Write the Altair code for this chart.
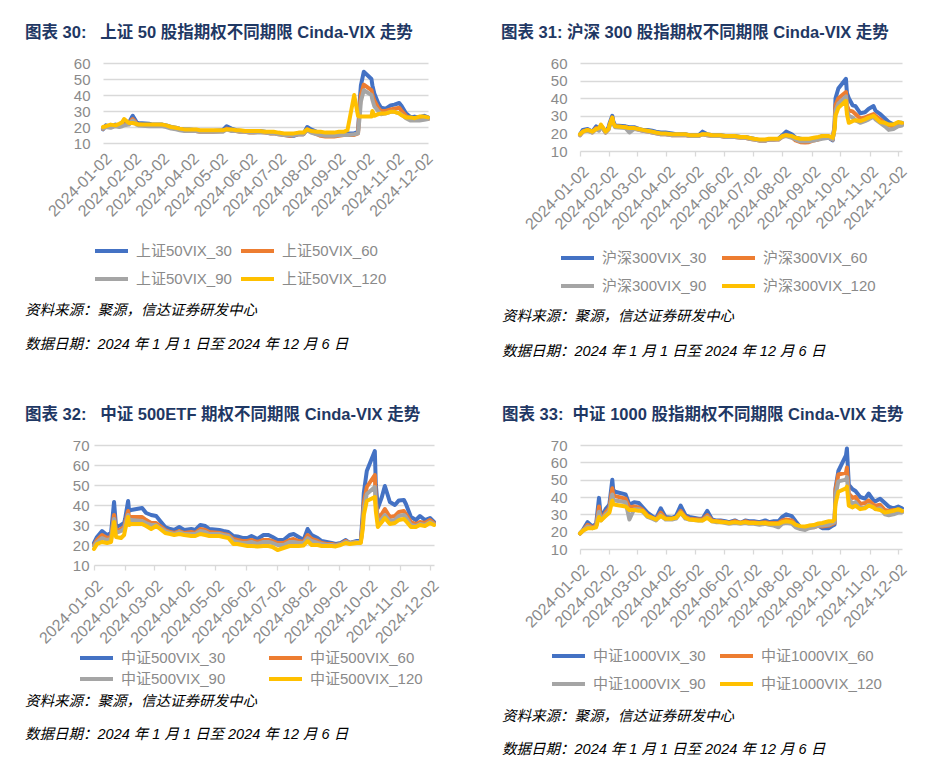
import altair as alt
import pandas as pd

DATES = ["2024-01-02","2024-01-05","2024-01-10","2024-01-15","2024-01-19","2024-01-22","2024-01-24","2024-01-29",
"2024-02-01","2024-02-02","2024-02-05","2024-02-06","2024-02-08","2024-02-19","2024-02-23","2024-02-28",
"2024-03-04","2024-03-08","2024-03-13","2024-03-18","2024-03-22","2024-03-27",
"2024-04-01","2024-04-08","2024-04-12","2024-04-17","2024-04-22","2024-04-26",
"2024-05-06","2024-05-10","2024-05-15","2024-05-20","2024-05-24","2024-05-29",
"2024-06-03","2024-06-07","2024-06-13","2024-06-19","2024-06-24","2024-06-28",
"2024-07-03","2024-07-09","2024-07-15","2024-07-19","2024-07-24","2024-07-29",
"2024-08-02","2024-08-06","2024-08-12","2024-08-16","2024-08-21","2024-08-26","2024-08-30",
"2024-09-04","2024-09-09","2024-09-13","2024-09-20","2024-09-24","2024-09-26","2024-09-27","2024-09-30",
"2024-10-08","2024-10-09","2024-10-11","2024-10-15","2024-10-18","2024-10-23","2024-10-28",
"2024-11-01","2024-11-06","2024-11-08","2024-11-13","2024-11-18","2024-11-22","2024-11-27",
"2024-12-02","2024-12-06"]

TICK_MONTHS = [1, 2, 3, 4, 5, 6, 7, 8, 9, 10, 11, 12]
COLORS = ["#4472C4", "#ED7D31", "#A5A5A5", "#FFC000"]

# ---- 图表 30: 上证50 ----
P1_NAMES = ["上证50VIX_30", "上证50VIX_60", "上证50VIX_90", "上证50VIX_120"]
P1_30 = [18.5, 21, 20, 21.5, 21, 21.5, 22, 22.5,
         26, 27, 24, 23, 22.5, 22, 21.5, 21.5,
         21.5, 21, 20, 19.5, 19, 18.5,
         18.5, 18, 17.5, 17.5, 17.5, 17.5,
         18, 20.5, 19, 18, 17.5, 17.5,
         17, 17, 17.5, 17, 16.5, 16.5,
         16, 15, 14.5, 14.5, 15.5, 15.5,
         20, 18.5, 17, 16, 15.5, 15.5, 15.5,
         16, 16.5, 16, 16, 17, 38, 46, 54.5,
         50, 46, 41, 35, 32, 31.5, 33.5,
         34, 35, 33.5, 28.5, 26, 26.5, 26,
         27, 26]
P1_60 = [19, 20.5, 20, 21, 21, 21, 21.5, 22,
         24.5, 25, 23, 22, 21.5, 21, 21, 21,
         21, 20.5, 19.5, 19, 18.5, 18,
         18, 17.5, 17, 17, 17, 17,
         17.5, 19, 18, 17.5, 17, 17,
         16.5, 16.5, 17, 16.5, 16, 16,
         15.5, 15, 14.5, 15, 15.5, 15.5,
         18.5, 17, 15.5, 14.5, 14, 14, 14,
         14.5, 15, 15, 15, 16, 33, 40, 46.5,
         43, 40, 36.5, 32, 30, 30, 31,
         31.5, 32, 30.5, 27, 25, 25.5, 25,
         25.5, 25]
P1_90 = [19, 20, 19.5, 20.5, 20, 20.5, 21, 21.5,
         23.5, 24, 22.5, 21.5, 21, 20.5, 20.5, 20.5,
         20.5, 20, 19, 18.5, 18, 17.5,
         17.5, 17.5, 17, 17, 17, 17,
         17, 18.5, 17.5, 17.5, 17, 17,
         16.5, 16.5, 16.5, 16.5, 16, 16,
         15.5, 15, 15, 15, 15.5, 15.5,
         18, 16.5, 15.5, 15, 14.5, 14.5, 14.5,
         15, 15, 15, 15.5, 16, 28, 36, 43,
         40, 37, 33, 30, 28, 28.5, 29.5,
         29.5, 28.5, 28, 25.5, 24, 24, 24,
         24.5, 25]
P1_120 = [20, 20.5, 21.5, 21, 22, 23, 25, 22.5,
          22.5, 22.5, 22, 22, 21.5, 21.5, 21.5, 21.5,
          21.5, 21, 20, 19.5, 19, 18.5,
          18.5, 18.5, 18, 18, 18, 18,
          18, 18.5, 18.5, 18, 18, 17.5,
          17.5, 17.5, 17.5, 17, 17, 17,
          16.5, 16, 16, 16, 16.5, 16.5,
          18.5, 17.5, 17, 17, 16.5, 16.5, 16.5,
          17, 17, 18, 40, 27, 26.5, 26.5, 26.5,
          26.5, 30, 27, 28, 28.5, 28.5, 29.5,
          29.5, 28.5, 27.5, 26, 26, 25.5, 26.5,
          26.5, 26]

# ---- 图表 31: 沪深300 ----
P2_NAMES = ["沪深300VIX_30", "沪深300VIX_60", "沪深300VIX_90", "沪深300VIX_120"]
P2_30 = [19.5, 22, 22.5, 21, 24, 22.5, 24.5, 21,
         23.5, 25.5, 30, 27, 24.5, 24, 23.5, 23.5,
         22.5, 22, 22, 21.5, 21, 20.5,
         20.5, 20, 19.5, 19.5, 19.5, 19,
         19, 21, 19.5, 19, 19, 19,
         18.5, 18.5, 18.5, 18, 18, 17.5,
         17, 16, 16, 16.5, 16.5, 17,
         19, 21, 19.5, 17.5, 17, 16.5, 16.5,
         17, 17.5, 18.5, 17.5, 16, 25, 40, 45.5,
         51, 43, 40, 36, 35.5, 31.5, 32,
         34, 35.5, 33, 31, 28.5, 26.5, 25,
         26, 26]
P2_60 = [19, 21, 22, 20.5, 23, 22, 24.5, 20.5,
         22.5, 24.5, 29, 26, 24, 23.5, 23, 23,
         22, 21.5, 21, 20.5, 20, 19.5,
         19.5, 19, 19, 19, 19, 18.5,
         18.5, 19.5, 19, 18.5, 18.5, 18.5,
         18, 18, 18, 17.5, 17.5, 17,
         16.5, 16, 16, 16.5, 16.5, 16.5,
         18, 19, 18, 16, 15, 14.8, 15,
         16, 16.5, 17.5, 17.5, 16.5, 24, 36, 40,
         43.5, 36, 33, 32.5, 31, 28.5, 29,
         30, 31, 30, 28, 25.5, 24.5, 24,
         24.5, 25.5]
P2_90 = [19, 21, 21.5, 20.5, 22.5, 21.5, 24, 20.5,
         22, 24, 28, 25.5, 23.5, 23, 20.5, 22.5,
         22, 21.5, 21, 20.5, 20, 19.5,
         19.5, 19, 19, 19, 19, 18.5,
         18.5, 19.5, 19, 18.5, 18.5, 18.5,
         18, 18, 18, 17.5, 17.5, 17,
         16.5, 16, 16, 16.5, 16.5, 16.5,
         18, 18.5, 17.5, 16.5, 15.5, 15.5, 15.5,
         16, 16.5, 17, 17.5, 16.5, 23, 33, 37,
         41, 33, 30, 29, 27.5, 26, 27,
         28, 29.5, 28, 26, 24, 22, 22.5,
         24, 24.5]
P2_120 = [19.5, 21, 22, 21, 22.5, 23, 25, 21,
          22.5, 24.5, 29, 26, 24, 23.5, 23, 23,
          22.5, 22, 21.5, 21, 20.5, 20,
          20, 19.5, 19.5, 19.5, 19.5, 19,
          19, 19.5, 19.5, 19, 19, 19,
          18.5, 18.5, 18.5, 18, 18, 17.5,
          17, 16.5, 16.5, 17, 17, 17,
          18.5, 19, 18.5, 17.5, 17, 17, 17,
          17.5, 18, 18.5, 18.5, 17.5, 22, 30, 34.5,
          38.5, 31, 26, 27, 27.5, 27, 28,
          29, 30, 29, 26.5, 26, 25, 25,
          26.5, 26]

# ---- 图表 32: 中证500ETF ----
P3_NAMES = ["中证500VIX_30", "中证500VIX_60", "中证500VIX_90", "中证500VIX_120"]
P3_30 = [21, 24, 27, 25, 26, 41.5, 29, 30,
         31, 33, 42, 37, 37.5, 38.5, 36, 35,
         34.5, 32, 29, 28, 27.5, 29,
         27.5, 28, 27.5, 30, 29.5, 28,
         27.5, 27, 26.5, 24.5, 24.3, 23.5,
         23.5, 24.5, 23, 25, 25, 24,
         22.5, 22.5, 25, 25.5, 24, 22.5,
         28, 25, 23.5, 22, 21.5, 21, 20.5,
         21, 22.5, 21, 22, 22, 36, 46, 57,
         67, 50, 38.5, 44, 49.5, 41.5, 40,
         42.3, 42.5, 40.5, 34, 32.5, 34.5, 32.5,
         33.5, 31.5]
P3_60 = [20, 22.5, 25, 23.5, 24, 35, 27, 28,
         29, 31, 37, 34, 34, 34, 32.5, 31,
         31, 29.5, 27.5, 26.5, 26, 27,
         26, 26.5, 26, 28, 27.5, 26.5,
         26, 25.5, 25, 23, 22.5, 22,
         22, 22.5, 21.5, 22.5, 22.5, 22,
         21, 21, 22.5, 23, 22, 21.5,
         25, 23, 22, 21, 20.5, 20.5, 20,
         20.5, 22, 21, 21.5, 21.5, 32, 41, 49,
         55, 42, 33.5, 35.5, 38, 34, 34.5,
         36.5, 37, 35.5, 31.5, 30.5, 31.5, 31,
         32.5, 31]
P3_90 = [19.5, 21.5, 23.5, 22.5, 23, 33, 26, 27,
         28, 30, 35, 32, 32.5, 32, 31, 30,
         30, 28.5, 27, 26, 25.5, 26.5,
         25.5, 25.5, 25.5, 27, 26.5, 25.5,
         25.5, 25, 24.5, 22, 21.5, 21,
         21, 21.5, 20.5, 21.5, 21.5, 21,
         20, 20, 21.5, 21.5, 21, 21,
         23.5, 22, 21, 20.5, 20, 20, 19.8,
         20.5, 21.5, 21, 21.5, 21.5, 30, 38, 45.5,
         49, 40, 31.5, 33, 35, 32, 32.5,
         34.5, 35, 34, 30, 29.5, 30.5, 30,
         31.5, 30.5]
P3_120 = [18, 20.5, 21.5, 21, 21.5, 31.5, 24, 23.5,
          25, 27.5, 34, 30, 30.5, 30.5, 29.5, 28,
          29.5, 28, 26, 25.5, 25, 25.5,
          25, 24.5, 24.5, 25.5, 25, 24.5,
          24.5, 24, 23.5, 20.5, 20.5, 20,
          19.5, 19.5, 19.3, 19.5, 19.5, 19,
          17.5, 18.5, 19.5, 19.5, 19.5, 19.8,
          22, 20, 20, 19.5, 19.5, 19.5, 19.3,
          20, 21, 20.5, 21, 21, 28, 35, 42,
          44, 37, 29, 31.5, 33.5, 30.5, 31,
          32.5, 33, 32, 29, 29, 30, 29.5,
          31, 30]

# ---- 图表 33: 中证1000 ----
P4_NAMES = ["中证1000VIX_30", "中证1000VIX_60", "中证1000VIX_90", "中证1000VIX_120"]
P4_30 = [19, 21, 25.5, 23, 24.5, 39.5, 28, 33,
         35, 36, 50, 44, 43, 41.5, 35.5, 37,
         36.5, 34, 31, 29, 27.5, 33.5,
         28.5, 28, 29, 35, 29.5, 28.5,
         27.5, 27.5, 32, 27, 26.5, 26.5,
         26, 25.5, 26.5, 25, 26.5, 26,
         26, 25.5, 26.5, 25.5, 26, 26,
         28.5, 30, 29, 26, 22.5, 22, 23,
         23, 23.5, 22, 22, 23.5, 24, 45, 55,
         64, 68, 47, 44.5, 43.5, 40, 39,
         42, 38, 37.5, 39, 36.5, 34.5, 33.5,
         34.5, 33.5]
P4_60 = [19, 20.5, 24, 22.5, 23.5, 34.5, 27, 31,
         33, 34, 45, 41, 40.5, 39, 34, 34.5,
         34, 32.5, 29.5, 28, 27, 31,
         27.5, 27.5, 28, 32, 28.5, 27.5,
         27, 27, 29.5, 26.5, 26, 26,
         25.5, 25, 26, 25, 26, 25.5,
         25.5, 25, 25.5, 25, 25, 25,
         26.5, 27, 26.5, 24, 22, 21.5, 22.5,
         22.5, 23.5, 23, 23.5, 24.5, 25, 44, 53,
         54, 57, 42, 39.5, 40, 36, 36.5,
         38, 35.5, 35, 35.5, 32.5, 32, 32.5,
         32, 31.5]
P4_90 = [19, 20.5, 23, 22, 23, 31.5, 26.5, 30,
         31.5, 32.5, 41.5, 38.5, 38, 37, 27, 33,
         33, 31.5, 28.5, 27.5, 26.5, 29.5,
         27, 27, 27.5, 31, 27.5, 27,
         26.5, 26.5, 28.5, 26, 25.5, 25.5,
         25, 24.5, 25, 24.5, 25, 24.5,
         24.5, 24, 24.5, 24, 23.5, 22.5,
         24.5, 25, 24.5, 22.5, 21.5, 21, 22,
         22.5, 23.5, 23.5, 24, 25, 25.5, 41, 49,
         50, 51.5, 39, 36, 37, 33.5, 34,
         35.5, 34, 33, 33.5, 30, 29.5, 30,
         31, 31]
P4_120 = [19, 20.5, 22, 22, 22.5, 28.5, 26.5, 29,
          30.5, 31, 38, 36, 35.5, 34.5, 32.5, 32.5,
          32, 32, 29, 28, 27, 29,
          27.5, 27.5, 28, 31, 28, 27,
          26.5, 26.5, 28, 26, 26, 25.5,
          25.5, 25, 25.5, 25, 25.5, 25,
          25, 24.8, 25, 24.5, 24.5, 24.5,
          25.5, 26, 25.5, 24, 23.2, 23, 23.5,
          23.8, 24.7, 25, 26, 26, 27, 36, 43,
          45, 46, 35, 34, 35, 33, 33.5,
          35, 34, 33, 32.5, 31, 31.5, 32,
          33, 32]

FONT = "Liberation Sans, Noto Sans CJK SC"
LABEL_GRAY = "#8a8a8a"
GRID = "#d9d9d9"
SOURCE = "资料来源：聚源，信达证券研发中心"
DATE_NOTE = "数据日期：2024 年 1 月 1 日至 2024 年 12 月 6 日"
W, H = 925, 762

# plot-area placement of each panel (pixels on the page)
PANELS = [
    dict(names=P1_NAMES, series=[P1_30, P1_60, P1_90, P1_120],
         title="图表 30:\u00a0\u00a0\u00a0上证 50 股指期权不同期限 Cinda-VIX 走势",
         x0=103, x1=428, y0=63, y1=143, ymax=60, ticks=False, ylabpad=13,
         leg=(93, 243, 12, 7), tx=25, ty=33, sx=25, sy=311, dy=345),
    dict(names=P2_NAMES, series=[P2_30, P2_60, P2_90, P2_120],
         title="图表 31:\u00a0沪深 300 股指期权不同期限 Cinda-VIX 走势",
         x0=580, x1=902, y0=63, y1=151, ymax=60, ticks=True, ylabpad=13,
         leg=(559, 250, 12, 13), tx=501, ty=33, sx=502, sy=317, dy=352),
    dict(names=P3_NAMES, series=[P3_30, P3_60, P3_90, P3_120],
         title="图表 32:\u00a0\u00a0\u00a0中证 500ETF 期权不同期限 Cinda-VIX 走势",
         x0=94, x1=434, y0=445, y1=565, ymax=70, ticks=True, ylabpad=5,
         leg=(78, 650, 5, 41), tx=25, ty=415, sx=25, sy=702, dy=735),
    dict(names=P4_NAMES, series=[P4_30, P4_60, P4_90, P4_120],
         title="图表 33:\u00a0\u00a0中证 1000 股指期权不同期限 Cinda-VIX 走势",
         x0=580, x1=902, y0=445, y1=549, ymax=70, ticks=True, ylabpad=13,
         leg=(550, 648, 12, 12), tx=502, ty=415, sx=502, sy=717, dy=750),
]

ONE = pd.DataFrame({"k": [0]})


def text_layer(txt, x, y, size, color, weight="normal", style="normal"):
    return alt.Chart(ONE).mark_text(
        align="left", baseline="middle", font=FONT, fontSize=size, color=color,
        fontWeight=weight, fontStyle=style
    ).encode(x=alt.value(x), y=alt.value(y), text=alt.value(txt))


def panel(p):
    rows = []
    for name, vals in zip(p["names"], p["series"]):
        for d, v in zip(DATES, vals):
            rows.append({"date": d, "series": name, "value": v})
    df = pd.DataFrame(rows)

    xscale = alt.Scale(type="utc", range=[p["x0"], p["x1"]],
                       domain=[alt.DateTime(year=2024, month=1, date=2, utc=True),
                               alt.DateTime(year=2024, month=12, date=6, utc=True)])
    xaxis = alt.Axis(orient="bottom", offset=p["y1"] - H,
                     values=[alt.DateTime(year=2024, month=m, date=2, utc=True) for m in TICK_MONTHS],
                     format="%Y-%m-%d", labelAngle=-45, grid=False, domain=False,
                     ticks=p["ticks"], tickColor=GRID, tickSize=5, tickWidth=1.3,
                     labelPadding=7, labelFontSize=16, labelColor=LABEL_GRAY, labelFont=FONT,
                     labelOverlap=False, labelFlush=False, labelBound=False, title=None)
    yscale = alt.Scale(domain=[10, p["ymax"]], range=[p["y1"], p["y0"]], nice=False, zero=False)
    yaxis = alt.Axis(orient="left", offset=-p["x0"],
                     values=list(range(10, p["ymax"] + 1, 10)), grid=True, gridColor=GRID, gridWidth=1.3,
                     domain=False, ticks=False, labelPadding=p["ylabpad"], labelFontSize=15,
                     labelColor=LABEL_GRAY, labelFont=FONT, title=None)
    lx, ly, rp, cp = p["leg"]
    legend = alt.Legend(orient="none", legendX=lx, legendY=ly, columns=2, direction="horizontal",
                        symbolType="stroke", symbolStrokeWidth=4, symbolSize=1089, labelFontSize=15,
                        labelFont=FONT, labelColor=LABEL_GRAY, title=None, padding=0, rowPadding=rp,
                        columnPadding=cp, labelOffset=6, clipHeight=16)
    cscale = alt.Scale(domain=p["names"], range=COLORS)

    lines = []
    for name in p["names"]:
        lines.append(
            alt.Chart(df).transform_filter(alt.datum.series == name)
            .mark_line(strokeWidth=4, strokeJoin="round", strokeCap="round")
            .encode(x=alt.X("date:T", scale=xscale, axis=xaxis),
                    y=alt.Y("value:Q", scale=yscale, axis=yaxis),
                    color=alt.Color("series:N", scale=cscale, legend=legend))
        )

    title = text_layer(p["title"], p["tx"], p["ty"], 16.5, "#1F3864", weight="bold")
    src = text_layer(SOURCE, p["sx"], p["sy"], 14.5, "#000000", style="italic")
    note = text_layer(DATE_NOTE, p["sx"], p["dy"], 14.5, "#000000", style="italic")
    return alt.layer(*lines, title, src, note)


chart = alt.layer(*[panel(p) for p in PANELS]).resolve_scale(
    x="independent", y="independent", color="independent"
).resolve_axis(x="independent", y="independent").resolve_legend(color="independent").properties(
    width=W, height=H, padding=0, background="white",
    autosize=alt.AutoSizeParams(type="none")
).configure_view(stroke=None)

chart.save("out.html", embed_options={"renderer": "svg", "actions": False})
